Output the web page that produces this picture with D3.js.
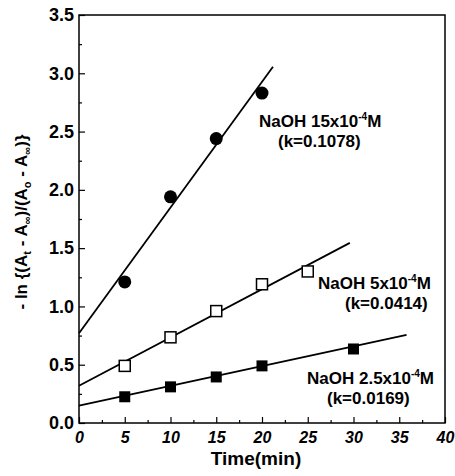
<!DOCTYPE html>
<html>
<head>
<meta charset="utf-8">
<script src="https://cdn.jsdelivr.net/npm/d3@7"></script>
<style>
  body { margin: 0; background: #fff; }
  text { font-family: "Liberation Sans", Arial, sans-serif; fill: #000; }
</style>
</head>
<body>
<svg id="chart" width="455" height="476"></svg>
<script>
// time (min) and -ln{(At-Ainf)/(Ao-Ainf)}
var time15 = [5, 10, 15, 20];
var val15 = [1.21, 1.94, 2.44, 2.83];
var time5 = [5, 10, 15, 20, 25];
var val5 = [0.49, 0.735, 0.96, 1.19, 1.30];
var time25 = [5, 10, 15, 20, 30];
var val25 = [0.225, 0.31, 0.395, 0.49, 0.635];

// fitted lines: intercept, slope, end time
var fitIntercept = [0.77, 0.32, 0.15];
var fitSlope = [0.1078, 0.0414, 0.0169];
var fitEnd = [21.2, 29.6, 35.8];

var xTicks = [0, 5, 10, 15, 20, 25, 30, 35, 40];
var yTicks = [0, 0.5, 1, 1.5, 2, 2.5, 3, 3.5];

var svg = d3.select("#chart");
var margin = { left: 79, top: 15, right: 10, bottom: 53 };
var width = 455 - margin.left - margin.right,
    height = 476 - margin.top - margin.bottom;

var x = d3.scaleLinear().domain([0, 40]).range([0, width]);
var y = d3.scaleLinear().domain([0, 3.5]).range([height, 0]);

var g = svg.append("g")
    .attr("transform", "translate(" + margin.left + "," + margin.top + ")");

// frame
g.append("rect")
    .attr("width", width)
    .attr("height", height)
    .attr("fill", "none")
    .attr("stroke", "#000")
    .attr("stroke-width", 1.5);

// bottom axis, ticks inward
var xAxis = g.append("g")
    .attr("transform", "translate(0," + height + ")")
    .call(d3.axisBottom(x).tickValues(xTicks).tickSize(-6).tickPadding(9).tickFormat(d3.format("d")));
g.append("g")
    .attr("transform", "translate(0," + height + ")")
    .call(d3.axisBottom(x).tickValues(d3.range(2.5, 40, 5)).tickSize(-3).tickFormat(""));

var yAxis = g.append("g")
    .call(d3.axisLeft(y).tickValues(yTicks).tickSize(-6).tickPadding(5).tickFormat(d3.format(".1f")));
g.append("g")
    .call(d3.axisLeft(y).tickValues(d3.range(0.25, 3.5, 0.5)).tickSize(-3).tickFormat(""));

g.selectAll(".domain").remove();
g.selectAll(".tick line").attr("stroke", "#000").attr("stroke-width", 1.2);
xAxis.selectAll("text")
    .style("font-size", "16px").style("font-weight", "bold").style("font-style", "italic");
yAxis.selectAll("text")
    .style("font-size", "18px").style("font-weight", "bold");

// fit lines
for (var i = 0; i < 3; i++) {
  g.append("line")
      .attr("x1", x(0))
      .attr("y1", y(fitIntercept[i]))
      .attr("x2", x(fitEnd[i]))
      .attr("y2", y(fitIntercept[i] + fitSlope[i] * fitEnd[i]))
      .attr("stroke", "#000")
      .attr("stroke-width", 1.8);
}

// markers
g.selectAll(".c15")
    .data(time15.map(function(t, i) { return [t, val15[i]]; }))
  .enter().append("circle")
    .attr("cx", function(d) { return x(d[0]); })
    .attr("cy", function(d) { return y(d[1]); })
    .attr("r", 6.5)
    .attr("fill", "#000");

var s = 11;
g.selectAll(".s5")
    .data(time5.map(function(t, i) { return [t, val5[i]]; }))
  .enter().append("rect")
    .attr("x", function(d) { return x(d[0]) - s / 2; })
    .attr("y", function(d) { return y(d[1]) - s / 2; })
    .attr("width", s).attr("height", s)
    .attr("fill", "#fff")
    .attr("stroke", "#000")
    .attr("stroke-width", 1.5);

g.selectAll(".s25")
    .data(time25.map(function(t, i) { return [t, val25[i]]; }))
  .enter().append("rect")
    .attr("x", function(d) { return x(d[0]) - s / 2; })
    .attr("y", function(d) { return y(d[1]) - s / 2; })
    .attr("width", s).attr("height", s)
    .attr("fill", "#000");

// series labels
function label(px, py, conc, k, kx) {
  var t = svg.append("text")
      .attr("x", px).attr("y", py)
      .style("font-size", "17px").style("font-weight", "bold");
  t.append("tspan").text("NaOH " + conc + "x10");
  t.append("tspan").attr("dy", -7).style("font-size", "10px").text("-4");
  t.append("tspan").attr("dy", 7).text("M");
  svg.append("text")
      .attr("x", kx).attr("y", py + 20)
      .style("font-size", "17px").style("font-weight", "bold")
      .text("(k=" + k + ")");
}
label(259, 127, "15", "0.1078", 278);
label(318, 289, "5", "0.0414", 345);
label(307, 384, "2.5", "0.0169", 327);

// axis titles
svg.append("text")
    .attr("x", margin.left + width / 2 - 6)
    .attr("y", 465)
    .attr("text-anchor", "middle")
    .style("font-size", "19px").style("font-weight", "bold")
    .text("Time(min)");

var yt = svg.append("text")
    .attr("transform", "translate(27,222) rotate(-90)")
    .attr("text-anchor", "middle")
    .style("font-size", "17px").style("font-weight", "bold");
yt.append("tspan").text("- ln {(A");
yt.append("tspan").attr("dy", 4).style("font-size", "11px").text("t");
yt.append("tspan").attr("dy", -4).text(" - A");
yt.append("tspan").attr("dy", 4).style("font-size", "11px").text("\u221E");
yt.append("tspan").attr("dy", -4).text(")/(A");
yt.append("tspan").attr("dy", 4).style("font-size", "11px").text("o");
yt.append("tspan").attr("dy", -4).text(" - A");
yt.append("tspan").attr("dy", 4).style("font-size", "11px").text("\u221E");
yt.append("tspan").attr("dy", -4).text(")}");
</script>
</body>
</html>
